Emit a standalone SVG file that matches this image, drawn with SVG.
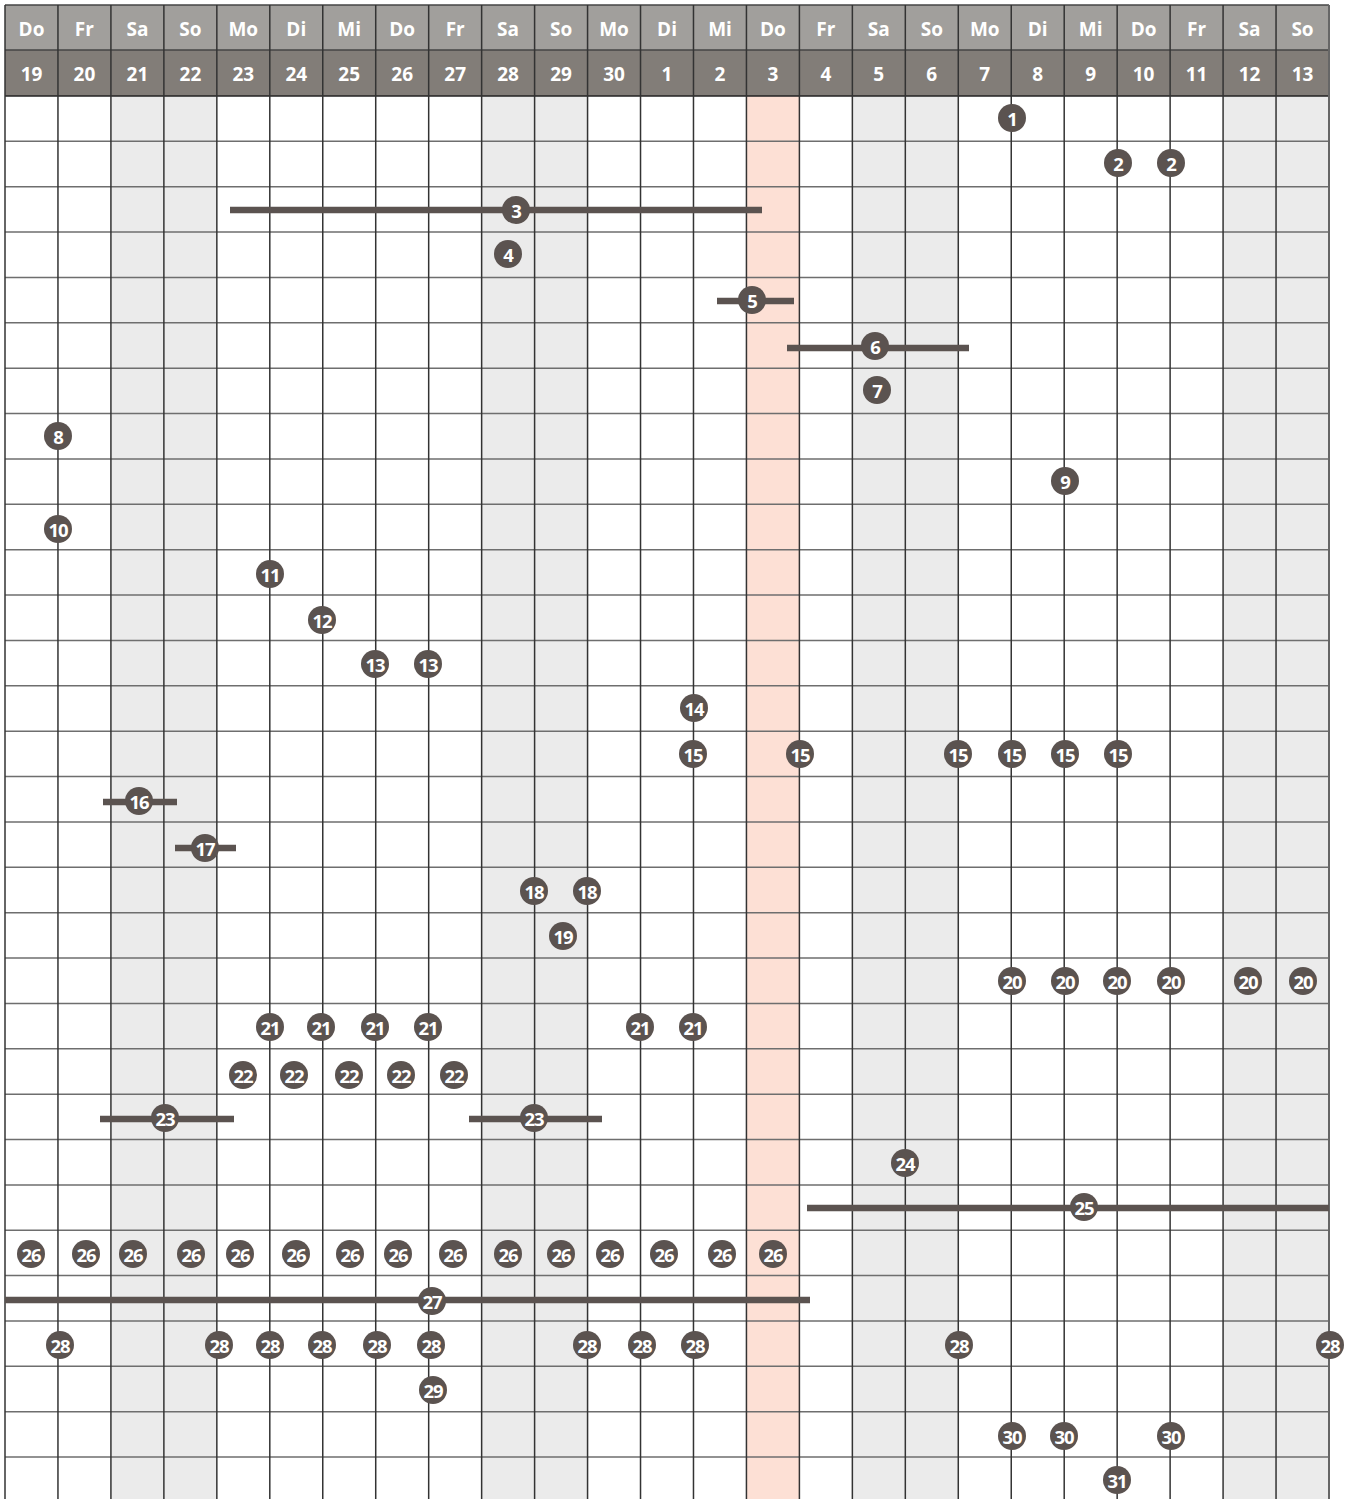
<svg xmlns="http://www.w3.org/2000/svg" width="1345" height="1499" viewBox="0 0 1345 1499">
<style>
.h1{fill:#a19f9c}
.h2{fill:#827d78}
.we{fill:#ebebeb}
.hl{fill:#fde0d5}
.ht{font-family:"Open Sans","DejaVu Sans",sans-serif;font-weight:bold;font-size:19px;fill:#ffffff;text-anchor:middle;dominant-baseline:central}
.vl{stroke:#333;stroke-width:1.5}
.hr{stroke:#6e6e6e;stroke-width:1.5}
.bar{stroke:#5b5350;stroke-width:6.5}
.c{fill:#5b5350}
.n{font-family:"Open Sans","DejaVu Sans",sans-serif;font-weight:bold;font-size:18.5px;fill:#ffffff;text-anchor:middle;dominant-baseline:central;letter-spacing:-1.2px}
</style>
<defs>
<circle id="dot" r="14" class="c"/>
</defs>
<rect x="0" y="0" width="1345" height="1499" fill="#ffffff"/>
<g id="background">
<rect class="we" x="110.92" y="96" width="105.92" height="1403"/>
<rect class="we" x="481.64" y="96" width="105.92" height="1403"/>
<rect class="we" x="852.36" y="96" width="105.92" height="1403"/>
<rect class="we" x="1223.08" y="96" width="105.92" height="1403"/>
<rect class="hl" x="746.44" y="96" width="52.96" height="1403"/>
</g>
<g id="header">
<rect class="h1" x="5" y="5" width="1324" height="45"/>
<rect class="h2" x="5" y="50" width="1324" height="46"/>
<g>
<text class="ht" x="31.5" y="29">Do</text><text class="ht" x="84.4" y="29">Fr</text><text class="ht" x="137.4" y="29">Sa</text><text class="ht" x="190.4" y="29">So</text><text class="ht" x="243.3" y="29">Mo</text><text class="ht" x="296.3" y="29">Di</text><text class="ht" x="349.2" y="29">Mi</text><text class="ht" x="402.2" y="29">Do</text><text class="ht" x="455.2" y="29">Fr</text><text class="ht" x="508.1" y="29">Sa</text><text class="ht" x="561.1" y="29">So</text><text class="ht" x="614" y="29">Mo</text><text class="ht" x="667" y="29">Di</text><text class="ht" x="720" y="29">Mi</text><text class="ht" x="772.9" y="29">Do</text><text class="ht" x="825.9" y="29">Fr</text><text class="ht" x="878.8" y="29">Sa</text><text class="ht" x="931.8" y="29">So</text><text class="ht" x="984.8" y="29">Mo</text><text class="ht" x="1037.7" y="29">Di</text><text class="ht" x="1090.7" y="29">Mi</text><text class="ht" x="1143.6" y="29">Do</text><text class="ht" x="1196.6" y="29">Fr</text><text class="ht" x="1249.6" y="29">Sa</text><text class="ht" x="1302.5" y="29">So</text>
<text class="ht" x="31.5" y="74">19</text><text class="ht" x="84.4" y="74">20</text><text class="ht" x="137.4" y="74">21</text><text class="ht" x="190.4" y="74">22</text><text class="ht" x="243.3" y="74">23</text><text class="ht" x="296.3" y="74">24</text><text class="ht" x="349.2" y="74">25</text><text class="ht" x="402.2" y="74">26</text><text class="ht" x="455.2" y="74">27</text><text class="ht" x="508.1" y="74">28</text><text class="ht" x="561.1" y="74">29</text><text class="ht" x="614" y="74">30</text><text class="ht" x="667" y="74">1</text><text class="ht" x="720" y="74">2</text><text class="ht" x="772.9" y="74">3</text><text class="ht" x="825.9" y="74">4</text><text class="ht" x="878.8" y="74">5</text><text class="ht" x="931.8" y="74">6</text><text class="ht" x="984.8" y="74">7</text><text class="ht" x="1037.7" y="74">8</text><text class="ht" x="1090.7" y="74">9</text><text class="ht" x="1143.6" y="74">10</text><text class="ht" x="1196.6" y="74">11</text><text class="ht" x="1249.6" y="74">12</text><text class="ht" x="1302.5" y="74">13</text>
</g>
</g>
<g id="grid">
<line class="hr" x1="5" y1="5" x2="1329" y2="5" style="stroke:#444"/>
<line class="hr" x1="5" y1="50" x2="1329" y2="50" style="stroke:#444"/>
<line class="hr" x1="5" y1="96" x2="1329" y2="96" style="stroke:#222"/>
<line class="hr" x1="5" y1="141.37" x2="1329" y2="141.37"/>
<line class="hr" x1="5" y1="186.74" x2="1329" y2="186.74"/>
<line class="hr" x1="5" y1="232.11" x2="1329" y2="232.11"/>
<line class="hr" x1="5" y1="277.48" x2="1329" y2="277.48"/>
<line class="hr" x1="5" y1="322.85" x2="1329" y2="322.85"/>
<line class="hr" x1="5" y1="368.22" x2="1329" y2="368.22"/>
<line class="hr" x1="5" y1="413.59" x2="1329" y2="413.59"/>
<line class="hr" x1="5" y1="458.96" x2="1329" y2="458.96"/>
<line class="hr" x1="5" y1="504.33" x2="1329" y2="504.33"/>
<line class="hr" x1="5" y1="549.7" x2="1329" y2="549.7"/>
<line class="hr" x1="5" y1="595.07" x2="1329" y2="595.07"/>
<line class="hr" x1="5" y1="640.44" x2="1329" y2="640.44"/>
<line class="hr" x1="5" y1="685.81" x2="1329" y2="685.81"/>
<line class="hr" x1="5" y1="731.18" x2="1329" y2="731.18"/>
<line class="hr" x1="5" y1="776.55" x2="1329" y2="776.55"/>
<line class="hr" x1="5" y1="821.92" x2="1329" y2="821.92"/>
<line class="hr" x1="5" y1="867.29" x2="1329" y2="867.29"/>
<line class="hr" x1="5" y1="912.66" x2="1329" y2="912.66"/>
<line class="hr" x1="5" y1="958.03" x2="1329" y2="958.03"/>
<line class="hr" x1="5" y1="1003.4" x2="1329" y2="1003.4"/>
<line class="hr" x1="5" y1="1048.77" x2="1329" y2="1048.77"/>
<line class="hr" x1="5" y1="1094.14" x2="1329" y2="1094.14"/>
<line class="hr" x1="5" y1="1139.51" x2="1329" y2="1139.51"/>
<line class="hr" x1="5" y1="1184.88" x2="1329" y2="1184.88"/>
<line class="hr" x1="5" y1="1230.25" x2="1329" y2="1230.25"/>
<line class="hr" x1="5" y1="1275.62" x2="1329" y2="1275.62"/>
<line class="hr" x1="5" y1="1320.99" x2="1329" y2="1320.99"/>
<line class="hr" x1="5" y1="1366.36" x2="1329" y2="1366.36"/>
<line class="hr" x1="5" y1="1411.73" x2="1329" y2="1411.73"/>
<line class="hr" x1="5" y1="1457.1" x2="1329" y2="1457.1"/>
<line class="vl" x1="5" y1="5" x2="5" y2="1499"/>
<line class="vl" x1="57.96" y1="5" x2="57.96" y2="1499"/>
<line class="vl" x1="110.92" y1="5" x2="110.92" y2="1499"/>
<line class="vl" x1="163.88" y1="5" x2="163.88" y2="1499"/>
<line class="vl" x1="216.84" y1="5" x2="216.84" y2="1499"/>
<line class="vl" x1="269.8" y1="5" x2="269.8" y2="1499"/>
<line class="vl" x1="322.76" y1="5" x2="322.76" y2="1499"/>
<line class="vl" x1="375.72" y1="5" x2="375.72" y2="1499"/>
<line class="vl" x1="428.68" y1="5" x2="428.68" y2="1499"/>
<line class="vl" x1="481.64" y1="5" x2="481.64" y2="1499"/>
<line class="vl" x1="534.6" y1="5" x2="534.6" y2="1499"/>
<line class="vl" x1="587.56" y1="5" x2="587.56" y2="1499"/>
<line class="vl" x1="640.52" y1="5" x2="640.52" y2="1499"/>
<line class="vl" x1="693.48" y1="5" x2="693.48" y2="1499"/>
<line class="vl" x1="746.44" y1="5" x2="746.44" y2="1499"/>
<line class="vl" x1="799.4" y1="5" x2="799.4" y2="1499"/>
<line class="vl" x1="852.36" y1="5" x2="852.36" y2="1499"/>
<line class="vl" x1="905.32" y1="5" x2="905.32" y2="1499"/>
<line class="vl" x1="958.28" y1="5" x2="958.28" y2="1499"/>
<line class="vl" x1="1011.24" y1="5" x2="1011.24" y2="1499"/>
<line class="vl" x1="1064.2" y1="5" x2="1064.2" y2="1499"/>
<line class="vl" x1="1117.16" y1="5" x2="1117.16" y2="1499"/>
<line class="vl" x1="1170.12" y1="5" x2="1170.12" y2="1499"/>
<line class="vl" x1="1223.08" y1="5" x2="1223.08" y2="1499"/>
<line class="vl" x1="1276.04" y1="5" x2="1276.04" y2="1499"/>
<line class="vl" x1="1329" y1="5" x2="1329" y2="1499" style="stroke:#666;stroke-width:2"/>
</g>
<g id="connectors">
<line class="bar" x1="230" y1="210" x2="762" y2="210"/>
<line class="bar" x1="717" y1="301" x2="794" y2="301"/>
<line class="bar" x1="787" y1="348" x2="969" y2="348"/>
<line class="bar" x1="103" y1="802" x2="177" y2="802"/>
<line class="bar" x1="175" y1="848" x2="236" y2="848"/>
<line class="bar" x1="100" y1="1119" x2="234" y2="1119"/>
<line class="bar" x1="469" y1="1119" x2="602" y2="1119"/>
<line class="bar" x1="807" y1="1208" x2="1329" y2="1208"/>
<line class="bar" x1="5" y1="1300" x2="810" y2="1300"/>
</g>
<g id="e1"><use href="#dot" x="1012" y="118"/><text class="n" x="1012" y="118">1</text></g>
<g id="e2"><use href="#dot" x="1118" y="163"/><text class="n" x="1118" y="163">2</text><use href="#dot" x="1171" y="163"/><text class="n" x="1171" y="163">2</text></g>
<g id="e3"><use href="#dot" x="516" y="210"/><text class="n" x="516" y="210">3</text></g>
<g id="e4"><use href="#dot" x="508" y="254"/><text class="n" x="508" y="254">4</text></g>
<g id="e5"><use href="#dot" x="752" y="300"/><text class="n" x="752" y="300">5</text></g>
<g id="e6"><use href="#dot" x="875" y="346"/><text class="n" x="875" y="346">6</text></g>
<g id="e7"><use href="#dot" x="877" y="390"/><text class="n" x="877" y="390">7</text></g>
<g id="e8"><use href="#dot" x="58" y="436"/><text class="n" x="58" y="436">8</text></g>
<g id="e9"><use href="#dot" x="1065" y="481"/><text class="n" x="1065" y="481">9</text></g>
<g id="e10"><use href="#dot" x="58" y="529"/><text class="n" x="58" y="529">10</text></g>
<g id="e11"><use href="#dot" x="270" y="574"/><text class="n" x="270" y="574">11</text></g>
<g id="e12"><use href="#dot" x="322" y="620"/><text class="n" x="322" y="620">12</text></g>
<g id="e13"><use href="#dot" x="375" y="664"/><text class="n" x="375" y="664">13</text><use href="#dot" x="428" y="664"/><text class="n" x="428" y="664">13</text></g>
<g id="e14"><use href="#dot" x="694" y="708"/><text class="n" x="694" y="708">14</text></g>
<g id="e15"><use href="#dot" x="693" y="754"/><text class="n" x="693" y="754">15</text><use href="#dot" x="800" y="754"/><text class="n" x="800" y="754">15</text><use href="#dot" x="958" y="754"/><text class="n" x="958" y="754">15</text><use href="#dot" x="1012" y="754"/><text class="n" x="1012" y="754">15</text><use href="#dot" x="1065" y="754"/><text class="n" x="1065" y="754">15</text><use href="#dot" x="1118" y="754"/><text class="n" x="1118" y="754">15</text></g>
<g id="e16"><use href="#dot" x="139" y="801"/><text class="n" x="139" y="801">16</text></g>
<g id="e17"><use href="#dot" x="205" y="848"/><text class="n" x="205" y="848">17</text></g>
<g id="e18"><use href="#dot" x="534" y="891"/><text class="n" x="534" y="891">18</text><use href="#dot" x="587" y="891"/><text class="n" x="587" y="891">18</text></g>
<g id="e19"><use href="#dot" x="563" y="936"/><text class="n" x="563" y="936">19</text></g>
<g id="e20"><use href="#dot" x="1012" y="981"/><text class="n" x="1012" y="981">20</text><use href="#dot" x="1065" y="981"/><text class="n" x="1065" y="981">20</text><use href="#dot" x="1117" y="981"/><text class="n" x="1117" y="981">20</text><use href="#dot" x="1171" y="981"/><text class="n" x="1171" y="981">20</text><use href="#dot" x="1248" y="981"/><text class="n" x="1248" y="981">20</text><use href="#dot" x="1303" y="981"/><text class="n" x="1303" y="981">20</text></g>
<g id="e21"><use href="#dot" x="270" y="1027"/><text class="n" x="270" y="1027">21</text><use href="#dot" x="321" y="1027"/><text class="n" x="321" y="1027">21</text><use href="#dot" x="375" y="1027"/><text class="n" x="375" y="1027">21</text><use href="#dot" x="428" y="1027"/><text class="n" x="428" y="1027">21</text><use href="#dot" x="640" y="1027"/><text class="n" x="640" y="1027">21</text><use href="#dot" x="693" y="1027"/><text class="n" x="693" y="1027">21</text></g>
<g id="e22"><use href="#dot" x="243" y="1075"/><text class="n" x="243" y="1075">22</text><use href="#dot" x="294" y="1075"/><text class="n" x="294" y="1075">22</text><use href="#dot" x="349" y="1075"/><text class="n" x="349" y="1075">22</text><use href="#dot" x="401" y="1075"/><text class="n" x="401" y="1075">22</text><use href="#dot" x="454" y="1075"/><text class="n" x="454" y="1075">22</text></g>
<g id="e23"><use href="#dot" x="165" y="1118"/><text class="n" x="165" y="1118">23</text><use href="#dot" x="534" y="1118"/><text class="n" x="534" y="1118">23</text></g>
<g id="e24"><use href="#dot" x="905" y="1163"/><text class="n" x="905" y="1163">24</text></g>
<g id="e25"><use href="#dot" x="1084" y="1207"/><text class="n" x="1084" y="1207">25</text></g>
<g id="e26"><use href="#dot" x="31" y="1254"/><text class="n" x="31" y="1254">26</text><use href="#dot" x="86" y="1254"/><text class="n" x="86" y="1254">26</text><use href="#dot" x="133" y="1254"/><text class="n" x="133" y="1254">26</text><use href="#dot" x="191" y="1254"/><text class="n" x="191" y="1254">26</text><use href="#dot" x="240" y="1254"/><text class="n" x="240" y="1254">26</text><use href="#dot" x="296" y="1254"/><text class="n" x="296" y="1254">26</text><use href="#dot" x="350" y="1254"/><text class="n" x="350" y="1254">26</text><use href="#dot" x="398" y="1254"/><text class="n" x="398" y="1254">26</text><use href="#dot" x="453" y="1254"/><text class="n" x="453" y="1254">26</text><use href="#dot" x="508" y="1254"/><text class="n" x="508" y="1254">26</text><use href="#dot" x="561" y="1254"/><text class="n" x="561" y="1254">26</text><use href="#dot" x="610" y="1254"/><text class="n" x="610" y="1254">26</text><use href="#dot" x="664" y="1254"/><text class="n" x="664" y="1254">26</text><use href="#dot" x="722" y="1254"/><text class="n" x="722" y="1254">26</text><use href="#dot" x="773" y="1254"/><text class="n" x="773" y="1254">26</text></g>
<g id="e27"><use href="#dot" x="432" y="1301"/><text class="n" x="432" y="1301">27</text></g>
<g id="e28"><use href="#dot" x="60" y="1345"/><text class="n" x="60" y="1345">28</text><use href="#dot" x="219" y="1345"/><text class="n" x="219" y="1345">28</text><use href="#dot" x="270" y="1345"/><text class="n" x="270" y="1345">28</text><use href="#dot" x="322" y="1345"/><text class="n" x="322" y="1345">28</text><use href="#dot" x="377" y="1345"/><text class="n" x="377" y="1345">28</text><use href="#dot" x="431" y="1345"/><text class="n" x="431" y="1345">28</text><use href="#dot" x="587" y="1345"/><text class="n" x="587" y="1345">28</text><use href="#dot" x="642" y="1345"/><text class="n" x="642" y="1345">28</text><use href="#dot" x="695" y="1345"/><text class="n" x="695" y="1345">28</text><use href="#dot" x="959" y="1345"/><text class="n" x="959" y="1345">28</text><use href="#dot" x="1330" y="1345"/><text class="n" x="1330" y="1345">28</text></g>
<g id="e29"><use href="#dot" x="433" y="1390"/><text class="n" x="433" y="1390">29</text></g>
<g id="e30"><use href="#dot" x="1012" y="1436"/><text class="n" x="1012" y="1436">30</text><use href="#dot" x="1064" y="1436"/><text class="n" x="1064" y="1436">30</text><use href="#dot" x="1171" y="1436"/><text class="n" x="1171" y="1436">30</text></g>
<g id="e31"><use href="#dot" x="1117" y="1480"/><text class="n" x="1117" y="1480">31</text></g>
</svg>
